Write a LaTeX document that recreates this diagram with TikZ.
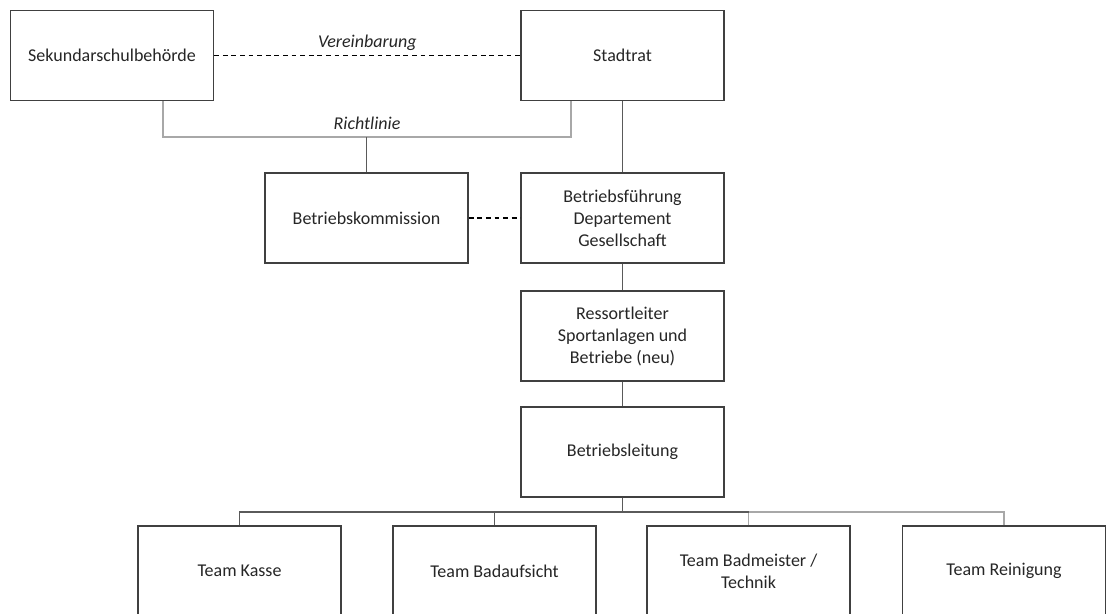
\documentclass[tikz,border=0pt]{standalone}
\usepackage{fontspec}
\setmainfont{Carlito}
\usepackage{tikz}

\definecolor{boxline}{HTML}{404040}
\definecolor{darkline}{HTML}{5A5A5A}
\definecolor{lightline}{HTML}{A8A8A8}
\definecolor{txt}{HTML}{262626}

\tikzset{
  orgbox/.style={draw=boxline, line width=0.7pt, fill=white, text=txt,
    minimum width=101.5pt, minimum height=45pt, inner sep=0pt,
    align=center, font=\fontsize{9}{11}\selectfont},
  darkcon/.style={draw=darkline, line width=0.6pt},
  lightcon/.style={draw=lightline, line width=0.6pt},
  dashcon/.style={draw=black, line width=0.55pt, dash pattern=on 2.4pt off 1.9pt},
  linklabel/.style={text=txt, font=\fontsize{9}{11}\selectfont\itshape}
}

\begin{document}
\begin{tikzpicture}[x=0.5pt, y=-0.5pt]
  \useasboundingbox (0,0) rectangle (1106,614);

  % Boxes
  \node[orgbox] (sek) at (112,55.5) {Sekundarschulbehörde};
  \node[orgbox] (stadt) at (622.5,55.5) {Stadtrat};
  \node[orgbox] (bk) at (366.5,218) {Betriebskommission};
  \node[orgbox] (bf) at (622.5,218) {Betriebsführung\\Departement\\Gesellschaft};
  \node[orgbox] (rl) at (622.5,336) {Ressortleiter\\Sportanlagen und\\Betriebe (neu)};
  \node[orgbox] (bl) at (622.5,452) {Betriebsleitung};

  \node[orgbox] (tk) at (239.5,571) {Team Kasse};
  \node[orgbox] (tba) at (494.5,571) {Team Badaufsicht};
  \node[orgbox] (tbm) at (748.5,571) {Team Badmeister /\\Technik};
  \node[orgbox] (tr) at (1004,571) {Team Reinigung};

  % Junctions
  \coordinate (rjL) at (163,137);
  \coordinate (rjR) at (571,137);
  \coordinate (tj) at (0,512);

  % Links
  \draw[dashcon] (sek) -- node[linklabel, above=-1pt] {Vereinbarung} (stadt);
  \draw[dashcon] (bk) -- (bf);
  \draw[lightcon] (sek.south -| rjL) |- node[linklabel, above=0pt, pos=0.75] {Richtlinie} (rjR) -- (stadt.south -| rjR);
  \draw[darkcon] (bk.north) -- (bk.north |- rjL);
  \draw[darkcon] (stadt) -- (bf);
  \draw[darkcon] (bf) -- (rl);
  \draw[darkcon] (rl) -- (bl);

  \draw[lightcon] (bl.south) -- (bl.south |- tj) -| (tr.north);
  \draw[lightcon] (tbm.north) -- (tbm.north |- tj);
  \draw[darkcon] (bl.south) -- (bl.south |- tj) -| (tk.north);
  \draw[darkcon] (bl.south |- tj) -| (tba.north);
  \draw[darkcon] (bl.south |- tj) -- (tbm.north |- tj);
\end{tikzpicture}
\end{document}
